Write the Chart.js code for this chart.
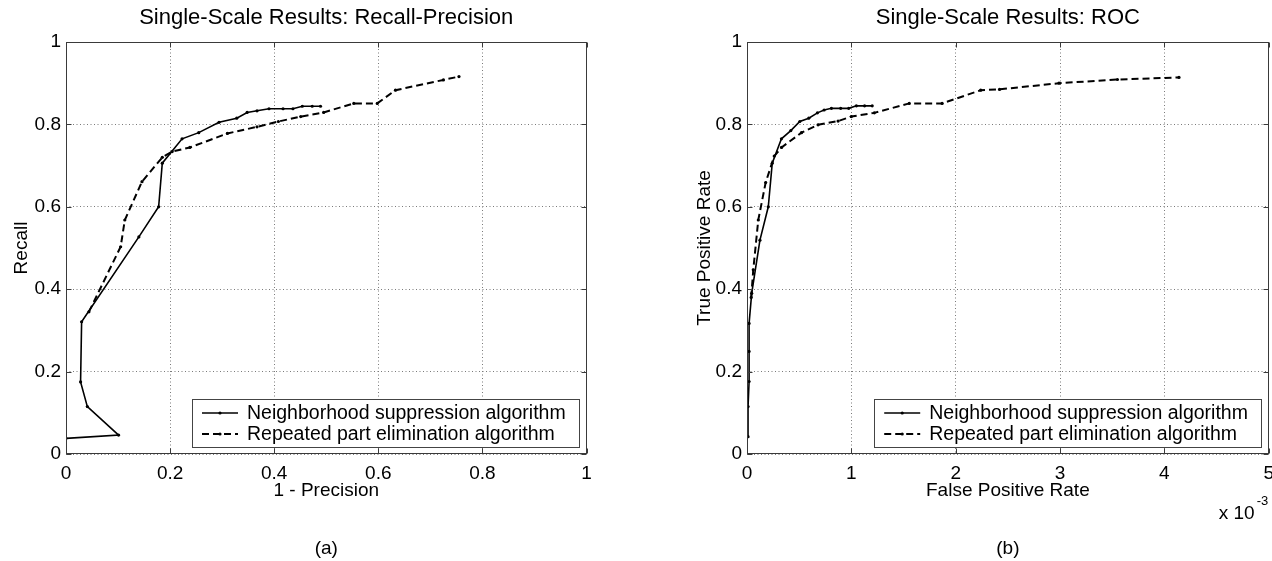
<!DOCTYPE html>
<html><head><meta charset="utf-8">
<script src="https://cdn.jsdelivr.net/npm/chart.js@4.4.1/dist/chart.umd.min.js"></script>
<style>
html,body{margin:0;padding:0;background:#fff;overflow:hidden;width:1272px;height:561px;}
#wrap{position:relative;width:1272px;height:561px;overflow:hidden;background:#fff;}
#c1{position:absolute;left:0;top:0;width:636px;height:561px;}
#c2{position:absolute;left:636px;top:0;width:646px;height:561px;}
</style></head><body>
<div id="wrap"><canvas id="c1" width="636" height="561"></canvas><canvas id="c2" width="646" height="561"></canvas></div>
<script>
// ---------- data ----------
const seriesLabels = ['Neighborhood suppression algorithm', 'Repeated part elimination algorithm'];

// (a) Recall-Precision : x = 1 - Precision, y = Recall
const rpNsX  = [0, 0.101, 0.041, 0.028, 0.030, 0.140, 0.178, 0.185, 0.223, 0.255, 0.294, 0.328, 0.348, 0.367, 0.390, 0.417, 0.436, 0.454, 0.473, 0.489];
const rpNsY  = [0.038, 0.046, 0.115, 0.175, 0.321, 0.527, 0.600, 0.706, 0.765, 0.780, 0.805, 0.815, 0.829, 0.833, 0.838, 0.838, 0.838, 0.844, 0.844, 0.844];
const rpRpeX = [0.044, 0.105, 0.113, 0.146, 0.185, 0.204, 0.238, 0.310, 0.367, 0.408, 0.451, 0.495, 0.553, 0.598, 0.633, 0.725, 0.755];
const rpRpeY = [0.345, 0.503, 0.568, 0.661, 0.720, 0.734, 0.744, 0.778, 0.794, 0.807, 0.819, 0.829, 0.851, 0.851, 0.883, 0.908, 0.916];

// (b) ROC : x = False Positive Rate (x 10^-3), y = True Positive Rate
const rocNsX  = [0.01, 0.01, 0.02, 0.02, 0.02, 0.045, 0.124, 0.204, 0.242, 0.33, 0.42, 0.506, 0.592, 0.675, 0.739, 0.809, 0.898, 0.975, 1.048, 1.127, 1.2];
const rocNsY  = [0.042, 0.115, 0.176, 0.249, 0.317, 0.39, 0.519, 0.600, 0.706, 0.765, 0.785, 0.807, 0.815, 0.828, 0.835, 0.839, 0.839, 0.839, 0.845, 0.845, 0.845];
const rocRpeX = [0.04, 0.06, 0.108, 0.179, 0.261, 0.331, 0.522, 0.681, 0.873, 1.0, 1.22, 1.555, 1.87, 2.24, 2.42, 2.99, 3.55, 4.14];
const rocRpeY = [0.38, 0.447, 0.568, 0.659, 0.723, 0.744, 0.780, 0.799, 0.808, 0.819, 0.828, 0.851, 0.851, 0.883, 0.885, 0.900, 0.909, 0.914];

const titles = ['Single-Scale Results: Recall-Precision', 'Single-Scale Results: ROC'];
const xTitles = ['1 - Precision', 'False Positive Rate'];
const yTitles = ['Recall', 'True Positive Rate'];
const captions = ['(a)', '(b)'];
const xRanges = [[0, 1, 0.2], [0, 5, 1]];
const yRange = [0, 1, 0.2];
const exponentLabel = ['x 10', '-3'];

// ---------- rendering ----------
const FONT = "'Liberation Sans', Arial, Helvetica, sans-serif";
Chart.defaults.color = '#000';
Chart.defaults.font.family = FONT;

const zip = (xs, ys) => xs.map((x, i) => ({x: x, y: ys[i]}));
const fmt = v => String(+Number(v).toFixed(3));

const decor = {
  id: 'decor',
  afterDraw(chart, args, opts) {
    const {ctx, chartArea: a, scales} = chart;
    ctx.save();
    const L = Math.round(a.left) + 0.5, R = Math.round(a.right) - 0.5;
    const T = Math.round(a.top) + 0.5, B = Math.round(a.bottom) - 0.5;
    ctx.setLineDash([]);
    ctx.strokeStyle = '#3a3a3a';
    ctx.lineWidth = 1;
    // inward tick marks
    const tl = 5;
    ctx.beginPath();
    scales.x.ticks.forEach(t => {
      const px = Math.round(scales.x.getPixelForValue(t.value)) + 0.5;
      ctx.moveTo(px, B); ctx.lineTo(px, B - tl);
      ctx.moveTo(px, T); ctx.lineTo(px, T + tl);
    });
    scales.y.ticks.forEach(t => {
      const py = Math.round(scales.y.getPixelForValue(t.value)) + 0.5;
      ctx.moveTo(L, py); ctx.lineTo(L + tl, py);
      ctx.moveTo(R, py); ctx.lineTo(R - tl, py);
    });
    ctx.stroke();
    // axes box
    ctx.strokeRect(L, T, R - L, B - T);

    // legend (inside, lower right)
    const lw = 387, lh = 47.5;
    const lx = a.right - 7.5 - lw, ly = a.bottom - 8 - lh;
    ctx.fillStyle = '#fff';
    ctx.fillRect(lx, ly, lw, lh);
    ctx.strokeStyle = '#444';
    ctx.strokeRect(Math.round(lx) + 0.5, Math.round(ly) + 0.5, Math.round(lw), Math.round(lh));
    ctx.font = '19.5px ' + FONT;
    ctx.textBaseline = 'middle';
    ctx.textAlign = 'left';
    chart.data.datasets.forEach((ds, i) => {
      const cy = ly + 14.5 + i * 21;
      ctx.strokeStyle = ds.borderColor;
      ctx.lineWidth = ds.borderWidth;
      ctx.setLineDash(ds.borderDash || []);
      ctx.beginPath();
      ctx.moveTo(lx + 10, cy); ctx.lineTo(lx + 46, cy);
      ctx.stroke();
      ctx.setLineDash([]);
      ctx.fillStyle = '#000';
      ctx.beginPath(); ctx.arc(lx + 28, cy, 1.6, 0, Math.PI * 2); ctx.fill();
      ctx.fillText(ds.label, lx + 55, cy + 0.5);
    });

    // caption (a)/(b)
    ctx.fillStyle = '#000';
    ctx.textAlign = 'center';
    ctx.font = '19px ' + FONT;
    ctx.fillText(opts.caption, (a.left + a.right) / 2, 549);

    // exponent label
    if (opts.exponent) {
      ctx.textAlign = 'left';
      ctx.font = '19px ' + FONT;
      ctx.fillText(opts.exponent[0], a.right - 50, 514);
      ctx.font = '13px ' + FONT;
      ctx.fillText(opts.exponent[1], a.right - 12, 501);
    }
    ctx.restore();
  }
};

function makeChart(canvasId, idx, nsX, nsY, rpeX, rpeY, pad, yTitlePad) {
  const xr = xRanges[idx];
  return new Chart(document.getElementById(canvasId), {
    type: 'scatter',
    data: {
      datasets: [
        {label: seriesLabels[0], data: zip(nsX, nsY), showLine: true, borderColor: '#000', borderWidth: 1.6,
         pointRadius: 1.6, pointBackgroundColor: '#000', pointBorderWidth: 0, tension: 0, fill: false},
        {label: seriesLabels[1], data: zip(rpeX, rpeY), showLine: true, borderColor: '#000', borderWidth: 2,
         borderDash: [7, 4], pointRadius: 1.6, pointBackgroundColor: '#000', pointBorderWidth: 0, tension: 0, fill: false}
      ]
    },
    options: {
      responsive: false,
      animation: false,
      events: [],
      layout: {padding: pad},
      plugins: {
        legend: {display: false},
        tooltip: {enabled: false},
        title: {display: true, text: titles[idx], fullSize: false, color: '#000',
                font: {size: 22, weight: 'normal', family: FONT}, padding: {top: 4.8, bottom: 10.8}},
        decor: {caption: captions[idx], exponent: idx === 1 ? exponentLabel : null}
      },
      scales: {
        x: {
          type: 'linear', min: xr[0], max: xr[1],
          ticks: {stepSize: xr[2], padding: 8, color: '#000', font: {size: 19, family: FONT}, maxRotation: 0, callback: fmt},
          grid: {color: '#7a7a7a', lineWidth: 1, drawTicks: false},
          border: {display: false, dash: [1, 2.5]},
          title: {display: true, text: xTitles[idx], color: '#000', font: {size: 19, family: FONT}, padding: {top: 0, bottom: 12}},
          afterFit(s) { s.height = 60; }
        },
        y: {
          type: 'linear', min: yRange[0], max: yRange[1],
          ticks: {stepSize: yRange[2], padding: 5, color: '#000', font: {size: 19, family: FONT}, callback: fmt},
          grid: {color: '#7a7a7a', lineWidth: 1, drawTicks: false},
          border: {display: false, dash: [1, 2.5]},
          title: {display: true, text: yTitles[idx], color: '#000', font: {size: 19, family: FONT}, padding: {top: yTitlePad, bottom: 0}},
          afterFit(s) { s.width = 66; }
        }
      }
    },
    plugins: [decor]
  });
}

makeChart('c1', 0, rpNsX, rpNsY, rpRpeX, rpRpeY, {left: 0, right: 49.5, top: 0, bottom: 47}, 10);
makeChart('c2', 1, rocNsX, rocNsY, rocRpeX, rocRpeY, {left: 45, right: 12, top: 0, bottom: 47}, 12.6);
</script>
</body></html>
